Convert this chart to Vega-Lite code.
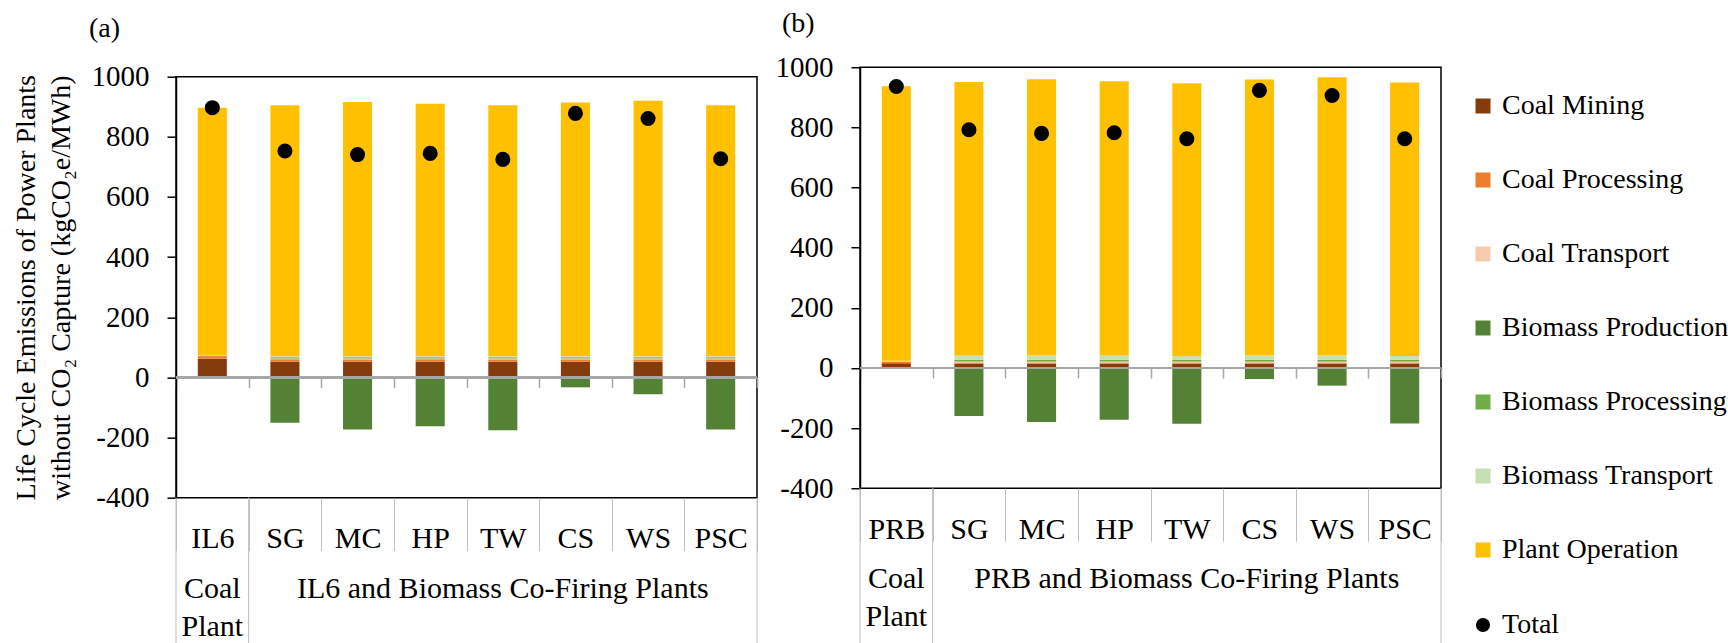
{
  "$schema": "https://vega.github.io/schema/vega-lite/v6.json",
  "background": "white",
  "padding": {"left": 11, "top": 9, "right": 5, "bottom": 0},
  "center": true,
  "config": {
    "view": {"stroke": "black", "strokeWidth": 1.5},
    "font": "Liberation Serif",
    "axis": {"labelFont": "Liberation Serif", "titleFont": "Liberation Serif", "labelColor": "black", "titleColor": "black"},
    "legend": {"labelFont": "Liberation Serif", "labelFontSize": 28, "labelColor": "black", "labelLimit": 400},
    "concat": {"spacing": 15}
  },
  "datasets": {
    "bars": [
      {"panel": "a", "plant": "IL6", "series": "Coal Mining", "ord": 1, "value": 62},
      {"panel": "a", "plant": "IL6", "series": "Coal Processing", "ord": 2, "value": 9},
      {"panel": "a", "plant": "IL6", "series": "Coal Transport", "ord": 3, "value": 3},
      {"panel": "a", "plant": "IL6", "series": "Plant Operation", "ord": 7, "value": 823},
      {"panel": "a", "plant": "IL6", "series": "Total", "ord": 8, "value": 897},

      {"panel": "a", "plant": "SG", "series": "Coal Mining", "ord": 1, "value": 52},
      {"panel": "a", "plant": "SG", "series": "Coal Processing", "ord": 2, "value": 8},
      {"panel": "a", "plant": "SG", "series": "Coal Transport", "ord": 3, "value": 3},
      {"panel": "a", "plant": "SG", "series": "Biomass Production", "ord": 4, "value": -151},
      {"panel": "a", "plant": "SG", "series": "Biomass Processing", "ord": 5, "value": 4},
      {"panel": "a", "plant": "SG", "series": "Biomass Transport", "ord": 6, "value": 3},
      {"panel": "a", "plant": "SG", "series": "Plant Operation", "ord": 7, "value": 835},
      {"panel": "a", "plant": "SG", "series": "Total", "ord": 8, "value": 753},

      {"panel": "a", "plant": "MC", "series": "Coal Mining", "ord": 1, "value": 52},
      {"panel": "a", "plant": "MC", "series": "Coal Processing", "ord": 2, "value": 8},
      {"panel": "a", "plant": "MC", "series": "Coal Transport", "ord": 3, "value": 3},
      {"panel": "a", "plant": "MC", "series": "Biomass Production", "ord": 4, "value": -173},
      {"panel": "a", "plant": "MC", "series": "Biomass Processing", "ord": 5, "value": 4},
      {"panel": "a", "plant": "MC", "series": "Biomass Transport", "ord": 6, "value": 3},
      {"panel": "a", "plant": "MC", "series": "Plant Operation", "ord": 7, "value": 846},
      {"panel": "a", "plant": "MC", "series": "Total", "ord": 8, "value": 741},

      {"panel": "a", "plant": "HP", "series": "Coal Mining", "ord": 1, "value": 52},
      {"panel": "a", "plant": "HP", "series": "Coal Processing", "ord": 2, "value": 8},
      {"panel": "a", "plant": "HP", "series": "Coal Transport", "ord": 3, "value": 3},
      {"panel": "a", "plant": "HP", "series": "Biomass Production", "ord": 4, "value": -162},
      {"panel": "a", "plant": "HP", "series": "Biomass Processing", "ord": 5, "value": 4},
      {"panel": "a", "plant": "HP", "series": "Biomass Transport", "ord": 6, "value": 3},
      {"panel": "a", "plant": "HP", "series": "Plant Operation", "ord": 7, "value": 840},
      {"panel": "a", "plant": "HP", "series": "Total", "ord": 8, "value": 745},

      {"panel": "a", "plant": "TW", "series": "Coal Mining", "ord": 1, "value": 52},
      {"panel": "a", "plant": "TW", "series": "Coal Processing", "ord": 2, "value": 8},
      {"panel": "a", "plant": "TW", "series": "Coal Transport", "ord": 3, "value": 3},
      {"panel": "a", "plant": "TW", "series": "Biomass Production", "ord": 4, "value": -176},
      {"panel": "a", "plant": "TW", "series": "Biomass Processing", "ord": 5, "value": 4},
      {"panel": "a", "plant": "TW", "series": "Biomass Transport", "ord": 6, "value": 3},
      {"panel": "a", "plant": "TW", "series": "Plant Operation", "ord": 7, "value": 835},
      {"panel": "a", "plant": "TW", "series": "Total", "ord": 8, "value": 725},

      {"panel": "a", "plant": "CS", "series": "Coal Mining", "ord": 1, "value": 52},
      {"panel": "a", "plant": "CS", "series": "Coal Processing", "ord": 2, "value": 8},
      {"panel": "a", "plant": "CS", "series": "Coal Transport", "ord": 3, "value": 3},
      {"panel": "a", "plant": "CS", "series": "Biomass Production", "ord": 4, "value": -33},
      {"panel": "a", "plant": "CS", "series": "Biomass Processing", "ord": 5, "value": 4},
      {"panel": "a", "plant": "CS", "series": "Biomass Transport", "ord": 6, "value": 3},
      {"panel": "a", "plant": "CS", "series": "Plant Operation", "ord": 7, "value": 844},
      {"panel": "a", "plant": "CS", "series": "Total", "ord": 8, "value": 878},

      {"panel": "a", "plant": "WS", "series": "Coal Mining", "ord": 1, "value": 52},
      {"panel": "a", "plant": "WS", "series": "Coal Processing", "ord": 2, "value": 8},
      {"panel": "a", "plant": "WS", "series": "Coal Transport", "ord": 3, "value": 3},
      {"panel": "a", "plant": "WS", "series": "Biomass Production", "ord": 4, "value": -56},
      {"panel": "a", "plant": "WS", "series": "Biomass Processing", "ord": 5, "value": 4},
      {"panel": "a", "plant": "WS", "series": "Biomass Transport", "ord": 6, "value": 3},
      {"panel": "a", "plant": "WS", "series": "Plant Operation", "ord": 7, "value": 850},
      {"panel": "a", "plant": "WS", "series": "Total", "ord": 8, "value": 861},

      {"panel": "a", "plant": "PSC", "series": "Coal Mining", "ord": 1, "value": 52},
      {"panel": "a", "plant": "PSC", "series": "Coal Processing", "ord": 2, "value": 8},
      {"panel": "a", "plant": "PSC", "series": "Coal Transport", "ord": 3, "value": 3},
      {"panel": "a", "plant": "PSC", "series": "Biomass Production", "ord": 4, "value": -173},
      {"panel": "a", "plant": "PSC", "series": "Biomass Processing", "ord": 5, "value": 4},
      {"panel": "a", "plant": "PSC", "series": "Biomass Transport", "ord": 6, "value": 3},
      {"panel": "a", "plant": "PSC", "series": "Plant Operation", "ord": 7, "value": 835},
      {"panel": "a", "plant": "PSC", "series": "Total", "ord": 8, "value": 727},

      {"panel": "b", "plant": "PRB", "series": "Coal Mining", "ord": 1, "value": 16},
      {"panel": "b", "plant": "PRB", "series": "Coal Processing", "ord": 2, "value": 5},
      {"panel": "b", "plant": "PRB", "series": "Coal Transport", "ord": 3, "value": 3},
      {"panel": "b", "plant": "PRB", "series": "Plant Operation", "ord": 7, "value": 913},
      {"panel": "b", "plant": "PRB", "series": "Total", "ord": 8, "value": 936},

      {"panel": "b", "plant": "SG", "series": "Coal Mining", "ord": 1, "value": 14},
      {"panel": "b", "plant": "SG", "series": "Coal Processing", "ord": 2, "value": 4},
      {"panel": "b", "plant": "SG", "series": "Coal Transport", "ord": 3, "value": 3},
      {"panel": "b", "plant": "SG", "series": "Biomass Production", "ord": 4, "value": -160},
      {"panel": "b", "plant": "SG", "series": "Biomass Processing", "ord": 5, "value": 6},
      {"panel": "b", "plant": "SG", "series": "Biomass Transport", "ord": 6, "value": 14},
      {"panel": "b", "plant": "SG", "series": "Plant Operation", "ord": 7, "value": 910},
      {"panel": "b", "plant": "SG", "series": "Total", "ord": 8, "value": 792},

      {"panel": "b", "plant": "MC", "series": "Coal Mining", "ord": 1, "value": 14},
      {"panel": "b", "plant": "MC", "series": "Coal Processing", "ord": 2, "value": 4},
      {"panel": "b", "plant": "MC", "series": "Coal Transport", "ord": 3, "value": 3},
      {"panel": "b", "plant": "MC", "series": "Biomass Production", "ord": 4, "value": -180},
      {"panel": "b", "plant": "MC", "series": "Biomass Processing", "ord": 5, "value": 6},
      {"panel": "b", "plant": "MC", "series": "Biomass Transport", "ord": 6, "value": 14},
      {"panel": "b", "plant": "MC", "series": "Plant Operation", "ord": 7, "value": 919},
      {"panel": "b", "plant": "MC", "series": "Total", "ord": 8, "value": 780},

      {"panel": "b", "plant": "HP", "series": "Coal Mining", "ord": 1, "value": 14},
      {"panel": "b", "plant": "HP", "series": "Coal Processing", "ord": 2, "value": 4},
      {"panel": "b", "plant": "HP", "series": "Coal Transport", "ord": 3, "value": 3},
      {"panel": "b", "plant": "HP", "series": "Biomass Production", "ord": 4, "value": -172},
      {"panel": "b", "plant": "HP", "series": "Biomass Processing", "ord": 5, "value": 6},
      {"panel": "b", "plant": "HP", "series": "Biomass Transport", "ord": 6, "value": 14},
      {"panel": "b", "plant": "HP", "series": "Plant Operation", "ord": 7, "value": 912},
      {"panel": "b", "plant": "HP", "series": "Total", "ord": 8, "value": 782},

      {"panel": "b", "plant": "TW", "series": "Coal Mining", "ord": 1, "value": 14},
      {"panel": "b", "plant": "TW", "series": "Coal Processing", "ord": 2, "value": 4},
      {"panel": "b", "plant": "TW", "series": "Coal Transport", "ord": 3, "value": 3},
      {"panel": "b", "plant": "TW", "series": "Biomass Production", "ord": 4, "value": -186},
      {"panel": "b", "plant": "TW", "series": "Biomass Processing", "ord": 5, "value": 6},
      {"panel": "b", "plant": "TW", "series": "Biomass Transport", "ord": 6, "value": 12},
      {"panel": "b", "plant": "TW", "series": "Plant Operation", "ord": 7, "value": 908},
      {"panel": "b", "plant": "TW", "series": "Total", "ord": 8, "value": 762},

      {"panel": "b", "plant": "CS", "series": "Coal Mining", "ord": 1, "value": 14},
      {"panel": "b", "plant": "CS", "series": "Coal Processing", "ord": 2, "value": 4},
      {"panel": "b", "plant": "CS", "series": "Coal Transport", "ord": 3, "value": 3},
      {"panel": "b", "plant": "CS", "series": "Biomass Production", "ord": 4, "value": -37},
      {"panel": "b", "plant": "CS", "series": "Biomass Processing", "ord": 5, "value": 6},
      {"panel": "b", "plant": "CS", "series": "Biomass Transport", "ord": 6, "value": 14},
      {"panel": "b", "plant": "CS", "series": "Plant Operation", "ord": 7, "value": 918},
      {"panel": "b", "plant": "CS", "series": "Total", "ord": 8, "value": 923},

      {"panel": "b", "plant": "WS", "series": "Coal Mining", "ord": 1, "value": 14},
      {"panel": "b", "plant": "WS", "series": "Coal Processing", "ord": 2, "value": 4},
      {"panel": "b", "plant": "WS", "series": "Coal Transport", "ord": 3, "value": 3},
      {"panel": "b", "plant": "WS", "series": "Biomass Production", "ord": 4, "value": -59},
      {"panel": "b", "plant": "WS", "series": "Biomass Processing", "ord": 5, "value": 6},
      {"panel": "b", "plant": "WS", "series": "Biomass Transport", "ord": 6, "value": 14},
      {"panel": "b", "plant": "WS", "series": "Plant Operation", "ord": 7, "value": 926},
      {"panel": "b", "plant": "WS", "series": "Total", "ord": 8, "value": 906},

      {"panel": "b", "plant": "PSC", "series": "Coal Mining", "ord": 1, "value": 14},
      {"panel": "b", "plant": "PSC", "series": "Coal Processing", "ord": 2, "value": 4},
      {"panel": "b", "plant": "PSC", "series": "Coal Transport", "ord": 3, "value": 3},
      {"panel": "b", "plant": "PSC", "series": "Biomass Production", "ord": 4, "value": -185},
      {"panel": "b", "plant": "PSC", "series": "Biomass Processing", "ord": 5, "value": 6},
      {"panel": "b", "plant": "PSC", "series": "Biomass Transport", "ord": 6, "value": 13},
      {"panel": "b", "plant": "PSC", "series": "Plant Operation", "ord": 7, "value": 909},
      {"panel": "b", "plant": "PSC", "series": "Total", "ord": 8, "value": 762}
    ],
    "groups": [
      {"panel": "a", "plant": "IL6", "label": "Coal\nPlant"},
      {"panel": "a", "plant": "TW", "label": "IL6 and Biomass Co-Firing Plants"},
      {"panel": "b", "plant": "PRB", "label": "Coal\nPlant"},
      {"panel": "b", "plant": "TW", "label": "PRB and Biomass Co-Firing Plants"}
    ]
  },
  "hconcat": [
    {
      "width": 581,
      "height": 421,
      "title": {"text": "(a)", "anchor": "start", "frame": "group", "dx": -87, "offset": 20, "fontSize": 28, "fontWeight": "normal", "font": "Liberation Serif", "color": "black"},
      "data": {"name": "bars"},
      "layer": [
        {
          "transform": [{"filter": "datum.panel === 'a' && datum.series !== 'Total'"}],
          "mark": {"type": "bar", "width": {"band": 0.4}},
          "encoding": {
            "x": {"field": "plant", "type": "nominal",
              "scale": {"domain": ["IL6", "SG", "MC", "HP", "TW", "CS", "WS", "PSC"], "paddingInner": 0, "paddingOuter": 0},
              "axis": {"title": null, "orient": "bottom", "domain": false, "ticks": true, "tickBand": "extent", "tickSize": 53, "tickColor": "#bfbfbf", "tickWidth": 1, "labelPadding": -27, "labelFontSize": 30, "labelAngle": 0}},
            "y": {"field": "value", "type": "quantitative", "stack": "zero",
              "scale": {"domain": [-400, 1000], "nice": false, "zero": false},
              "axis": {"title": ["Life Cycle Emissions of Power Plants", "without CO₂ Capture (kgCO₂e/MWh)"],
                "titleFontSize": 28, "titleFontWeight": "normal", "titleLineHeight": 35, "titlePadding": 16,
                "values": [-400, -300, -200, -100, 0, 100, 200, 300, 400, 500, 600, 700, 800, 900, 1000],
                "labelExpr": "datum.value % 200 === 0 ? '' + datum.value : ''", "labelOverlap": false,
                "grid": false, "domainColor": "black", "domainWidth": 1.5, "tickColor": "black", "tickWidth": 1.5, "tickSize": 9,
                "labelPadding": 18, "labelFontSize": 29}},
            "color": {"field": "series", "type": "nominal",
              "scale": {"domain": ["Coal Mining", "Coal Processing", "Coal Transport", "Biomass Production", "Biomass Processing", "Biomass Transport", "Plant Operation"],
                "range": ["#843C0C", "#ED7D31", "#F8CBAD", "#548235", "#70AD47", "#C5E0B4", "#FFC000"]},
              "legend": {"title": null, "orient": "none", "legendX": 1293, "legendY": 25, "symbolType": "square", "symbolSize": 225, "symbolStrokeWidth": 0, "rowPadding": 46, "labelOffset": 5, "padding": 0}},
            "order": {"field": "ord", "type": "quantitative"}
          }
        },
        {
          "mark": {"type": "rule", "color": "#a6a6a6", "strokeWidth": 1.5},
          "encoding": {"y": {"datum": 0}}
        },
        {
          "transform": [{"filter": "datum.panel === 'a' && datum.series === 'Total'"}],
          "mark": {"type": "point", "opacity": 0},
          "encoding": {
            "x": {"field": "plant", "type": "nominal",
              "axis": {"title": null, "orient": "bottom", "offset": -120.3, "domain": false, "labels": false, "ticks": true, "tickBand": "extent", "tickSize": 10, "tickColor": "#a6a6a6", "tickWidth": 1.5}},
            "y": {"datum": 0}
          }
        },
        {
          "transform": [{"filter": "datum.panel === 'a' && datum.series === 'Total' && (datum.plant === 'IL6' || datum.plant === 'SG')"}],
          "mark": {"type": "rule", "color": "#bfbfbf", "strokeWidth": 1},
          "encoding": {
            "x": {"field": "plant", "type": "nominal", "bandPosition": 0, "axis": null},
            "y": {"datum": -400}, "y2": {"datum": -900}
          }
        },
        {
          "transform": [{"filter": "datum.panel === 'a' && datum.series === 'Total' && datum.plant === 'PSC'"}],
          "mark": {"type": "rule", "color": "#bfbfbf", "strokeWidth": 1},
          "encoding": {
            "x": {"field": "plant", "type": "nominal", "bandPosition": 1, "axis": null},
            "y": {"datum": -400}, "y2": {"datum": -900}
          }
        },
        {
          "transform": [{"filter": "datum.panel === 'a' && datum.series === 'Total'"}],
          "mark": {"type": "point", "filled": true, "color": "black", "opacity": 1, "size": 227},
          "encoding": {
            "x": {"field": "plant", "type": "nominal", "axis": null},
            "y": {"field": "value", "type": "quantitative"},
            "shape": {"field": "series", "type": "nominal", "scale": {"domain": ["Total"], "range": ["circle"]},
              "legend": {"title": null, "orient": "none", "legendX": 1293, "legendY": 544, "symbolSize": 200, "symbolFillColor": "black", "symbolStrokeColor": "black", "labelOffset": 5, "padding": 0}}
          }
        },
        {
          "data": {"name": "groups"},
          "transform": [{"filter": "datum.panel === 'a'"}],
          "mark": {"type": "text", "baseline": "top", "align": "center", "fontSize": 30, "lineHeight": 38, "lineBreak": "\n", "font": "Liberation Serif", "color": "black"},
          "encoding": {
            "x": {"field": "plant", "type": "nominal", "axis": null},
            "y": {"datum": -653},
            "text": {"field": "label"}
          }
        }
      ],
      "resolve": {"axis": {"x": "independent"}}
    },
    {
      "width": 581,
      "height": 421,
      "title": {"text": "(b)", "anchor": "start", "frame": "group", "dx": -78, "offset": 15, "fontSize": 28, "fontWeight": "normal", "font": "Liberation Serif", "color": "black"},
      "data": {"name": "bars"},
      "layer": [
        {
          "transform": [{"filter": "datum.panel === 'b' && datum.series !== 'Total'"}],
          "mark": {"type": "bar", "width": {"band": 0.4}},
          "encoding": {
            "x": {"field": "plant", "type": "nominal",
              "scale": {"domain": ["PRB", "SG", "MC", "HP", "TW", "CS", "WS", "PSC"], "paddingInner": 0, "paddingOuter": 0},
              "axis": {"title": null, "orient": "bottom", "domain": false, "ticks": true, "tickBand": "extent", "tickSize": 53, "tickColor": "#bfbfbf", "tickWidth": 1, "labelPadding": -27, "labelFontSize": 30, "labelAngle": 0}},
            "y": {"field": "value", "type": "quantitative", "stack": "zero",
              "scale": {"domain": [-400, 1000], "nice": false, "zero": false},
              "axis": {"title": null,
                "values": [-400, -300, -200, -100, 0, 100, 200, 300, 400, 500, 600, 700, 800, 900, 1000],
                "labelExpr": "datum.value % 200 === 0 ? '' + datum.value : ''", "labelOverlap": false,
                "grid": false, "domainColor": "black", "domainWidth": 1.5, "tickColor": "black", "tickWidth": 1.5, "tickSize": 9,
                "labelPadding": 18, "labelFontSize": 29}},
            "color": {"field": "series", "type": "nominal",
              "scale": {"domain": ["Coal Mining", "Coal Processing", "Coal Transport", "Biomass Production", "Biomass Processing", "Biomass Transport", "Plant Operation"],
                "range": ["#843C0C", "#ED7D31", "#F8CBAD", "#548235", "#70AD47", "#C5E0B4", "#FFC000"]},
              "legend": {"title": null, "orient": "none", "legendX": 1293, "legendY": 25, "symbolType": "square", "symbolSize": 225, "symbolStrokeWidth": 0, "rowPadding": 46, "labelOffset": 5, "padding": 0}},
            "order": {"field": "ord", "type": "quantitative"}
          }
        },
        {
          "mark": {"type": "rule", "color": "#a6a6a6", "strokeWidth": 1.5},
          "encoding": {"y": {"datum": 0}}
        },
        {
          "transform": [{"filter": "datum.panel === 'b' && datum.series === 'Total'"}],
          "mark": {"type": "point", "opacity": 0},
          "encoding": {
            "x": {"field": "plant", "type": "nominal",
              "axis": {"title": null, "orient": "bottom", "offset": -120.3, "domain": false, "labels": false, "ticks": true, "tickBand": "extent", "tickSize": 10, "tickColor": "#a6a6a6", "tickWidth": 1.5}},
            "y": {"datum": 0}
          }
        },
        {
          "transform": [{"filter": "datum.panel === 'b' && datum.series === 'Total' && (datum.plant === 'PRB' || datum.plant === 'SG')"}],
          "mark": {"type": "rule", "color": "#bfbfbf", "strokeWidth": 1},
          "encoding": {
            "x": {"field": "plant", "type": "nominal", "bandPosition": 0, "axis": null},
            "y": {"datum": -400}, "y2": {"datum": -963}
          }
        },
        {
          "transform": [{"filter": "datum.panel === 'b' && datum.series === 'Total' && datum.plant === 'PSC'"}],
          "mark": {"type": "rule", "color": "#bfbfbf", "strokeWidth": 1},
          "encoding": {
            "x": {"field": "plant", "type": "nominal", "bandPosition": 1, "axis": null},
            "y": {"datum": -400}, "y2": {"datum": -963}
          }
        },
        {
          "transform": [{"filter": "datum.panel === 'b' && datum.series === 'Total'"}],
          "mark": {"type": "point", "filled": true, "color": "black", "opacity": 1, "size": 227},
          "encoding": {
            "x": {"field": "plant", "type": "nominal", "axis": null},
            "y": {"field": "value", "type": "quantitative"},
            "shape": {"field": "series", "type": "nominal", "scale": {"domain": ["Total"], "range": ["circle"]},
              "legend": {"title": null, "orient": "none", "legendX": 1293, "legendY": 544, "symbolSize": 200, "symbolFillColor": "black", "symbolStrokeColor": "black", "labelOffset": 5, "padding": 0}}
          }
        },
        {
          "data": {"name": "groups"},
          "transform": [{"filter": "datum.panel === 'b'"}],
          "mark": {"type": "text", "baseline": "top", "align": "center", "fontSize": 30, "lineHeight": 38, "lineBreak": "\n", "font": "Liberation Serif", "color": "black"},
          "encoding": {
            "x": {"field": "plant", "type": "nominal", "axis": null},
            "y": {"datum": -653},
            "text": {"field": "label"}
          }
        }
      ],
      "resolve": {"axis": {"x": "independent"}}
    }
  ],
  "resolve": {"scale": {"x": "independent", "y": "independent", "color": "shared", "shape": "shared"}}
}
